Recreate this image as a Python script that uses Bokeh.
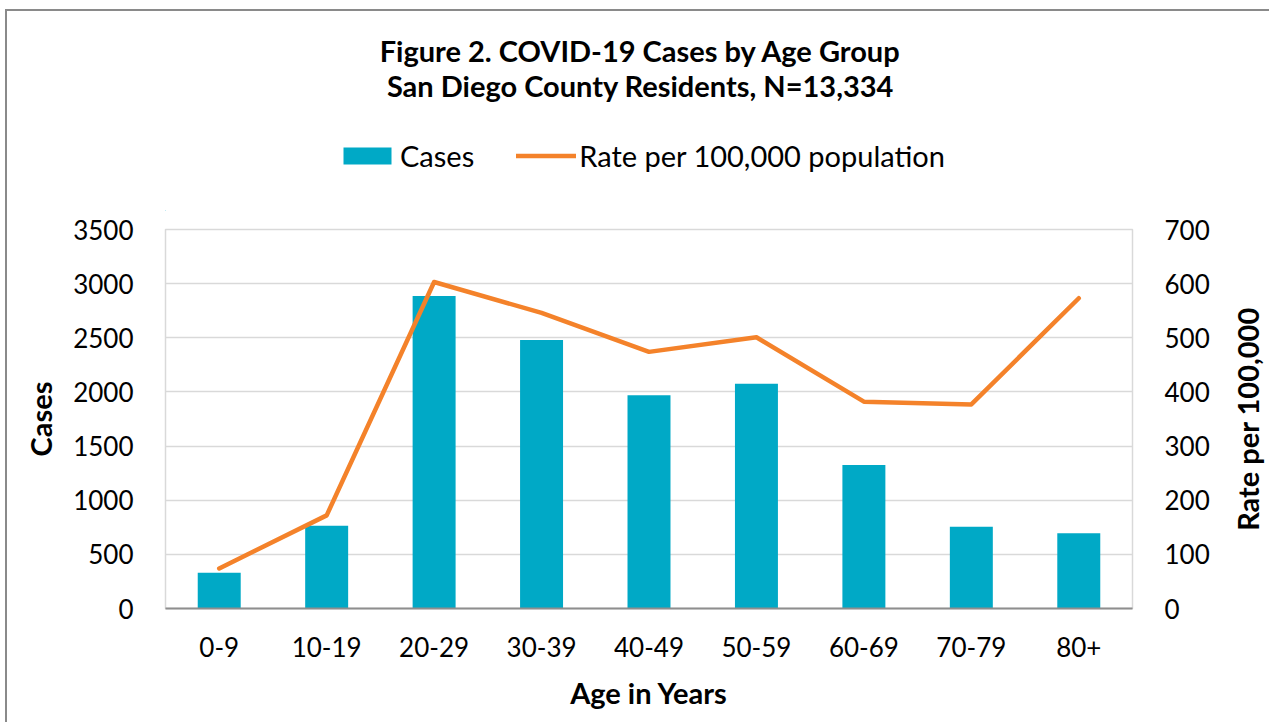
import math
from bokeh.plotting import figure
from bokeh.layouts import column, row
from bokeh.models import (ColumnDataSource, FactorRange, Range1d, LinearAxis, Legend,
                          LegendItem, Label, FixedTicker)
from bokeh.embed import file_html
from bokeh.resources import INLINE

# ---- data ----
age_groups = ["0-9", "10-19", "20-29", "30-39", "40-49", "50-59", "60-69", "70-79", "80+"]
cases = [330, 765, 2885, 2480, 1970, 2075, 1325, 755, 695]
rate_per_100k = [74, 172, 603, 546, 474, 501, 382, 377, 573]
cases_ticks = [0, 500, 1000, 1500, 2000, 2500, 3000, 3500]
rate_ticks = [0, 100, 200, 300, 400, 500, 600, 700]

title_line1 = "Figure 2. COVID-19 Cases by Age Group"
title_line2 = "San Diego County Residents, N=13,334"
series_names = ["Cases", "Rate per 100,000 population"]
x_label = "Age in Years"
y_label = "Cases"
y2_label = "Rate per 100,000"

FONT = "Lato"
TEAL = "#00A9C6"
ORANGE = "#F4822A"

W = 1262
HEAD_H = 200
CHART_H = 511
FRAME_W = 967
FRAME_H = 379
SIDE_W = 47
B_LEFT, B_TOP, B_BOTTOM = 158, 18, 114
CHART_W = W - SIDE_W

# ---------------- header: titles + legend ----------------
head = figure(width=W, height=HEAD_H, x_range=Range1d(0, FRAME_W), y_range=Range1d(0, HEAD_H),
              output_backend="svg", toolbar_location=None, title=None,
              x_axis_location=None, y_axis_location=None,
              min_border_left=B_LEFT, min_border_right=W - B_LEFT - FRAME_W,
              min_border_top=0, min_border_bottom=0)
head.grid.visible = False
head.outline_line_color = None
head.background_fill_color = "white"
head.border_fill_color = "white"

head.add_layout(Label(x=475, y=161, text=title_line1, text_align="center",
                      text_baseline="alphabetic", text_font=FONT, text_font_size="29px",
                      text_font_style="bold", text_color="black"))
head.add_layout(Label(x=475, y=126, text=title_line2, text_align="center",
                      text_baseline="alphabetic", text_font=FONT, text_font_size="29px",
                      text_font_style="bold", text_color="black"))

# legend proxies: styled like the chart glyphs, placed outside the header's visible range
proxy_src = ColumnDataSource(dict(x=[-1000, -900], top=[1, 1], y=[1, 1]))
lg_bar = head.vbar(x="x", top="top", width=1, source=proxy_src, fill_color=TEAL, line_color=None)
lg_line = head.line(x="x", y="y", source=proxy_src, line_color=ORANGE, line_width=4.5,
                    line_cap="round")
legend = Legend(items=[LegendItem(label=series_names[0], renderers=[lg_bar]),
                       LegendItem(label=series_names[1], renderers=[lg_line])],
                location=(172, 38), orientation="horizontal",
                glyph_width=60, glyph_height=21, label_standoff=3, spacing=42,
                padding=0, margin=0, border_line_alpha=0, background_fill_alpha=0,
                label_text_font=FONT, label_text_font_size="29px", label_text_color="black")
head.add_layout(legend, "center")

# ---------------- chart ----------------
src = ColumnDataSource(dict(age=age_groups, cases=cases, rate=rate_per_100k))

p = figure(x_range=FactorRange(*age_groups), y_range=Range1d(0, 3500),
           width=CHART_W, height=CHART_H, output_backend="svg", toolbar_location=None,
           title=None, min_border_left=B_LEFT, min_border_right=CHART_W - B_LEFT - FRAME_W,
           min_border_bottom=B_BOTTOM, min_border_top=B_TOP)
p.extra_y_ranges = {"rate": Range1d(0, 700)}

p.background_fill_color = "white"
p.border_fill_color = "white"
p.outline_line_color = "#D9D9D9"
p.outline_line_width = 1.5

bars = p.vbar(x="age", top="cases", width=0.4, source=src, fill_color=TEAL, line_color=None)
line = p.line(x="age", y="rate", source=src, y_range_name="rate", line_color=ORANGE,
              line_width=4.5, line_cap="round", line_join="round")

p.xgrid.grid_line_color = None
p.ygrid.ticker = FixedTicker(ticks=cases_ticks)
p.ygrid.grid_line_color = "#D9D9D9"
p.ygrid.grid_line_width = 1.5

la = p.yaxis[0]
la.ticker = FixedTicker(ticks=cases_ticks)
la.axis_label = y_label

ra = LinearAxis(y_range_name="rate", ticker=FixedTicker(ticks=rate_ticks))
p.add_layout(ra, "right")

xa = p.xaxis[0]
xa.axis_label = x_label

for ax in (la, ra, xa):
    ax.major_tick_line_color = None
    ax.minor_tick_line_color = None
    ax.major_tick_out = 0
    ax.major_tick_in = 0
    ax.major_label_text_font = FONT
    ax.major_label_text_font_size = "26px"
    ax.major_label_text_color = "black"
    ax.axis_label_text_font = FONT
    ax.axis_label_text_font_size = "29px"
    ax.axis_label_text_font_style = "bold"
    ax.axis_label_text_color = "black"

la.axis_line_color = None
ra.axis_line_color = None
xa.axis_line_color = "#8E8E8E"
xa.axis_line_width = 2

la.major_label_standoff = 32
ra.major_label_standoff = 32
la.axis_label_standoff = 12
xa.major_label_standoff = 28
xa.axis_label_standoff = 15

# ---------------- right-hand axis title (reads bottom to top) ----------------
side = figure(width=SIDE_W, height=CHART_H, x_range=Range1d(0, SIDE_W),
              y_range=Range1d(0, FRAME_H), output_backend="svg", toolbar_location=None,
              title=None, x_axis_location=None, y_axis_location=None,
              min_border_left=0, min_border_right=0, min_border_top=B_TOP,
              min_border_bottom=B_BOTTOM)
side.grid.visible = False
side.outline_line_color = None
side.background_fill_color = "white"
side.border_fill_color = "white"
side.add_layout(Label(x=25, y=FRAME_H / 2, text=y2_label, angle=math.pi / 2,
                      text_align="center", text_baseline="middle", text_font=FONT,
                      text_font_size="29px", text_font_style="bold", text_color="black"))

layout = column(head, row(p, side, spacing=0), spacing=0)
layout.styles = {"margin-left": "5px", "margin-top": "9px",
                 "border-left": "2px solid #8A8A8A", "border-top": "2px solid #8A8A8A"}

open("out.html", "w").write(file_html(layout, INLINE))
